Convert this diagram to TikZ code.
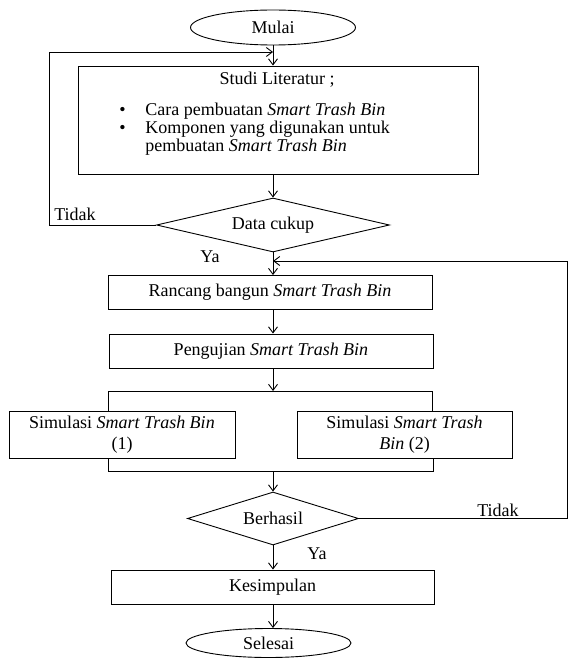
\documentclass[tikz,border=0pt]{standalone}
\usepackage{fontspec}
\setmainfont{Liberation Serif}
\usetikzlibrary{shapes.geometric,arrows.meta}

\begin{document}
\begin{tikzpicture}[x=1pt,y=-1pt,line width=0.9pt,
    every node/.style={font=\rmfamily\fontsize{18}{18}\selectfont,inner sep=0pt},
    terminal/.style={draw,ellipse,minimum width=165pt},
    proses/.style={draw,rectangle,minimum width=324pt,minimum height=34pt},
    simbox/.style={draw,rectangle,align=center,minimum height=47pt,font=\rmfamily\fontsize{18}{21.5}\selectfont},
    keputusan/.style={draw,diamond,minimum height=54pt},
    alur/.style={-{Straight Barb[length=6pt,width=9pt]}}]
  \useasboundingbox (0,0) rectangle (568,658);
  \draw
    (273,27.5) node[terminal,minimum height=35pt] (mulai) {Mulai}
    (278,120) node[draw,minimum width=400pt,minimum height=108pt] (studi) {}
    (273,225) node[keputusan,minimum width=233pt,aspect=4.3] (data) {Data cukup}
    (270,292.5) node[proses] (rancang) {Rancang bangun \textit{Smart Trash Bin}}
    (271,351) node[proses] (uji) {Pengujian \textit{Smart Trash Bin}}
    (122,434.5) node[simbox,minimum width=226pt] (sim1) {Simulasi \textit{Smart Trash Bin}\\(1)}
    (404.5,434.5) node[simbox,minimum width=215pt] (sim2) {Simulasi \textit{Smart Trash}\\\textit{Bin} (2)}
    (273,518.5) node[keputusan,minimum width=171pt,minimum height=53pt,aspect=3.2] (hasil) {Berhasil}
    (272.5,587) node[proses,minimum width=323pt] (simpul) {Kesimpulan}
    (268.5,643) node[terminal,minimum height=29pt] (selesai) {Selesai};
  % isi kotak studi literatur
  \draw
    (277,80) node (studiT) {Studi Literatur ;}
    (119,103) node[anchor=north west,align=left] (studiL)
      {\makebox[26pt][l]{\textbullet}Cara pembuatan \textit{Smart Trash Bin}\\
       \makebox[26pt][l]{\textbullet}Komponen yang digunakan untuk\\
       \hspace*{26pt}pembuatan \textit{Smart Trash Bin}};
  \coordinate (loopL) at (49,52);
  \coordinate (loopR) at (567,261);
  \coordinate (cabangL) at (108,391);
  \coordinate (cabangR) at (432,391);
  \coordinate (gabungL) at (108,471);
  \coordinate (gabungR) at (433,471);
  \draw[alur] (mulai) -- (mulai |- studi.north);
  \draw[alur] (studi.south -| mulai) -- (data.north);
  \draw[alur] (data) -- (data |- rancang.north);
  \draw[alur] (rancang.south -| data) -- (data |- uji.north);
  \draw[alur] (uji.south -| data) -- (data |- cabangL);
  \draw (sim1.north -| cabangL) -- (cabangL) -- (cabangR) -- (sim2.north -| cabangR);
  \draw (sim1.south -| gabungL) -- (gabungL) -- (gabungR) -- (sim2.south -| gabungR);
  \draw[alur] (data |- gabungL) -- (hasil.north);
  \draw[alur] (hasil) -- (hasil |- simpul.north);
  \draw[alur] (simpul.south -| hasil) -- (hasil |- selesai.north);
  \draw[alur] (data.west) -| (loopL) -- (mulai |- loopL);
  \draw[alur] (hasil.east) -| (loopR) -- (data |- loopR);
  \draw
    (75,214) node (tidak1) {Tidak}
    (210,257) node (ya1) {Ya}
    (498,510) node (tidak2) {Tidak}
    (317,554) node (ya2) {Ya};
\end{tikzpicture}
\end{document}
